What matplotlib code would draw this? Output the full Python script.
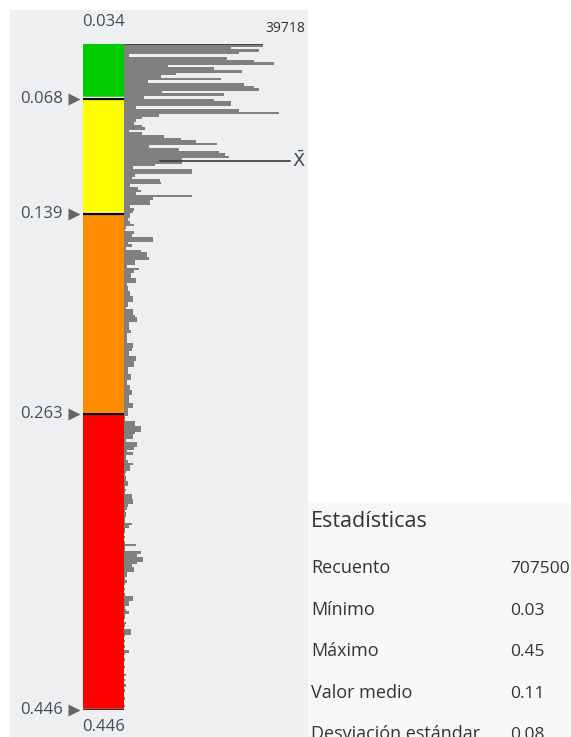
import numpy as np
import matplotlib.pyplot as plt
import matplotlib.transforms as mtransforms
from matplotlib.patches import Rectangle

plt.rcParams['font.family'] = ['Open Sans', 'DejaVu Sans']
plt.rcParams['mathtext.fontset'] = 'dejavusans'

# value range, class breaks and colours
vmin = 0.034
vmax = 0.446
max_count = 39718
mean_value = 0.1064
breaks = [0.034, 0.068, 0.139, 0.263, 0.446]
break_colors = ['#00cc00', '#ffff00', '#ff8c00', '#ff0000']

# histogram counts, 256 bins from vmin to vmax
counts = [
    35584, 27392, 34560, 29440, 1280, 26368, 33280, 38400, 11264, 23040,
    30208, 13312, 9472, 24832, 6144, 30720, 33280, 34560, 9728, 25600,
    5120,
    23040, 27392, 27392, 3072, 29440, 39718, 8960, 4608, 3072, 2560,
    4608, 5376, 1280, 4608, 10240, 14592, 18432, 23808, 6400, 14080,
    24320, 25856, 26880, 14848, 14848, 7936, 2304, 17408, 17408, 2816,
    2048, 9216, 9472, 1536, 3584, 4352, 3072, 17408, 7424, 6656,
    6656, 1536, 2560, 2304, 1536,
    1536, 1024, 1536, 2560, 512, 256, 2560, 2048, 7424, 7424,
    1024, 2048, 512, 4352, 5888, 5888, 6400, 2816, 2816, 768,
    3840, 2560, 1792, 1792, 3072, 3072, 768, 1024, 1024, 1536,
    1536, 2304, 2304, 1024, 1024, 512, 2304, 2304, 2816, 3328,
    3328, 1280, 1280, 1280, 1792, 768, 768, 768, 768, 2304,
    2304, 2048, 1280, 1280, 3072, 3072, 2560, 2560, 1024, 1024,
    1024, 1792, 1792, 768, 768, 1536, 1536, 2048, 2048, 1280,
    1280, 1280, 2304, 2304, 1024, 1024, 1024,
    256, 256, 2816, 2816, 4352, 4352, 2816, 2304, 2304, 512,
    3328, 3328, 2560, 768, 2304, 512, 512, 1024, 2304, 1536,
    1536, 512, 256, 512, 512, 1024, 1024, 256, 512, 256,
    2048, 2048, 2304, 2304, 1024, 768, 256, 512, 512, 256,
    256, 2048, 1280, 256, 256, 0, 256, 0, 256, 3072,
    256, 256, 4352, 3328, 4864, 4864, 3328, 2048, 2560, 2560,
    768, 768, 256, 768, 256, 0, 256, 0, 256, 2304,
    2304, 1280, 1280, 256, 512, 1280, 256, 256, 0, 512,
    256, 0, 1792, 1792, 256, 0, 256, 0, 256, 0,
    1280, 256, 0, 256, 0, 0, 256, 0, 0, 512,
    0, 256, 0, 512, 0, 256, 0, 0, 256, 0,
    0, 256, 0,
]

stat_names = ['Recuento', 'Mínimo', 'Máximo', 'Valor medio', 'Desviación estándar']
stat_values = ['707500', '0.03', '0.45', '0.11', '0.08']

W, H = 571, 737
label_color = '#464c58'
fig = plt.figure(figsize=(W / 100, H / 100), dpi=100)
fig.patch.set_facecolor('white')

# background panels
fig.patches.append(Rectangle((10 / W, 0), 298 / W, 727 / H, transform=fig.transFigure,
                             facecolor='#eeeff1', edgecolor='none', zorder=-2))
fig.patches.append(Rectangle((308 / W, 0), 263 / W, 235 / H, transform=fig.transFigure,
                             facecolor='#f6f7f7', edgecolor='none', zorder=-2))

ax_cb = fig.add_axes([83 / W, 27 / H, 41 / W, 666 / H])
ax = fig.add_axes([124 / W, 27 / H, 155 / W, 666 / H])
for a in (ax_cb, ax):
    a.set_ylim(vmax, vmin)
    a.axis('off')
    a.patch.set_alpha(0)
ax_cb.set_xlim(0, 1)
ax.set_xlim(0, max_count)

# colour classes
for i in range(len(break_colors)):
    ax_cb.axhspan(breaks[i], breaks[i + 1], color=break_colors[i], lw=0)

blend_cb = mtransforms.blended_transform_factory(ax_cb.transAxes, ax_cb.transData)
white_up = mtransforms.offset_copy(ax_cb.transData, fig, y=1.5, units='dots')
for b in breaks[1:]:
    ax_cb.plot([0, 1], [b, b], color='white', lw=1,
               transform=mtransforms.blended_transform_factory(ax_cb.transAxes, white_up))
    ax_cb.axhline(b, color='black' if b != vmax else '#333333', lw=1.6)
    ax_cb.text(-0.49, b, f'{b:.3f}', ha='right', va='center', fontsize=12,
               color=label_color, transform=blend_cb)
    ax_cb.plot([-0.23], [b], marker='>', ms=9, color='#666666', mec='none',
               transform=blend_cb, clip_on=False)

ax_cb.text(0.5, 1 + 22 / 666, f'{vmin:.3f}', ha='center', va='center', fontsize=12,
           color=label_color, transform=ax_cb.transAxes)
ax_cb.text(0.5, -17 / 666, f'{vmax:.3f}', ha='center', va='center', fontsize=12,
           color=label_color, transform=ax_cb.transAxes)

# histogram, drawn as one stepped shape so the bins touch
edges = np.linspace(vmin, vmax, len(counts) + 1)
ax.stairs(counts, edges, orientation='horizontal', fill=True, color='#808080',
          linewidth=0)
ax.plot([0, counts[0]], [vmin, vmin], color='#3c3c3c', lw=1.2, solid_capstyle='butt')

ax.text(1.168, 1 + 15 / 666, str(max_count), ha='right', va='center', fontsize=10,
        color='#333333', transform=ax.transAxes)

# mean line
blend_h = mtransforms.blended_transform_factory(ax.transAxes, ax.transData)
ax.plot([0.232, 1.071], [mean_value, mean_value], color='#3c3c3c', lw=1.2,
        transform=blend_h, clip_on=False)
ax.text(1.129, mean_value, r'$\bar{\mathrm{X}}$', ha='center', va='center', fontsize=13,
        color=label_color, transform=blend_h)

# statistics panel
fig.text(311 / W, (H - 527) / H, 'Estadísticas', fontsize=15.5, color='#333333',
         va='baseline')
for i, (name, val) in enumerate(zip(stat_names, stat_values)):
    yb = (H - (573 + i * 41.6)) / H
    fig.text(311 / W, yb, name, fontsize=13, color='#333333', va='baseline')
    fig.text(510 / W, yb, val, fontsize=12.5, color='#333333', va='baseline')

plt.savefig('out.png', dpi=100)
